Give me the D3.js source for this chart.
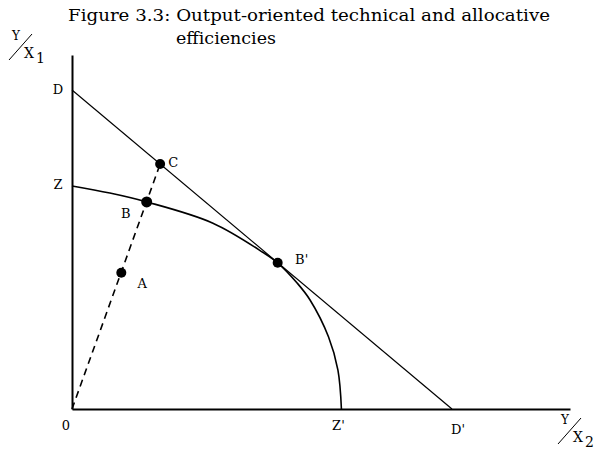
<!DOCTYPE html>
<html><head><meta charset="utf-8">
<script src="https://cdn.jsdelivr.net/npm/d3@7"></script>
<style>body{margin:0;background:#fff}svg{display:block}</style>
</head><body>
<script>
// Data (arbitrary units)
const titleLines = ["Figure 3.3: Output-oriented technical and allocative", "efficiencies"];
const frontierX = [0, 7.6, 15.0, 28.3, 38.4, 41.3, 45.2, 47.8, 51.5, 53.4, 54.1];
const frontierY = [63.0, 61.0, 58.5, 52.5, 44.2, 41.3, 35.6, 30.8, 20.4, 11.0, 0];
const isoRevenue = [{x: 0, y: 90.1, name: "D"}, {x: 76.3, y: 0, name: "D'"}];
const pointNames = ["A", "B", "C", "B'"];
const pointX = [9.9, 15.0, 17.7, 41.3];
const pointY = [38.5, 58.5, 69.2, 41.3];
const rayEnd = {x: 17.7, y: 69.2};
const axisLabels = ["0", "Z'", "D'", "Z", "D"];

const W = 601, H = 449;
const svg = d3.select("body").append("svg").attr("width", W).attr("height", H);
const x = d3.scaleLinear().domain([0, 100]).range([72, 570]);
const y = d3.scaleLinear().domain([0, 100]).range([409, 55]);
const serif = "'DejaVu Serif', 'Liberation Serif', serif";

// Title
svg.append("text").attr("x", 68).attr("y", 21).attr("font-family", serif).attr("font-size", 16)
  .attr("textLength", 482).attr("lengthAdjust", "spacingAndGlyphs").text(titleLines[0]);
svg.append("text").attr("x", 176).attr("y", 44).attr("font-family", serif).attr("font-size", 16)
  .attr("textLength", 100).attr("lengthAdjust", "spacingAndGlyphs").text(titleLines[1]);

// Axes
const xAxis = d3.axisBottom(x).tickValues([]).tickSizeOuter(0);
const yAxis = d3.axisLeft(y).tickValues([]).tickSizeOuter(0);
svg.append("g").attr("transform", `translate(0,${y(0)})`).call(xAxis)
  .select(".domain").attr("stroke", "#000").attr("stroke-width", 2);
svg.append("g").attr("transform", `translate(${x(0)},0)`).call(yAxis)
  .select(".domain").attr("stroke", "#000").attr("stroke-width", 2);

// Iso-revenue line D-D'
svg.append("line")
  .attr("x1", x(isoRevenue[0].x)).attr("y1", y(isoRevenue[0].y))
  .attr("x2", x(isoRevenue[1].x)).attr("y2", y(isoRevenue[1].y))
  .attr("stroke", "#000").attr("stroke-width", 1.2);

// Production possibility curve Z-Z'
const curveData = frontierX.map((v, i) => [v, frontierY[i]]);
svg.append("path").datum(curveData)
  .attr("d", d3.line().x(d => x(d[0])).y(d => y(d[1])).curve(d3.curveCatmullRom.alpha(0.5)))
  .attr("fill", "none").attr("stroke", "#000").attr("stroke-width", 1.6);

// Dashed ray from origin
svg.append("line").attr("x1", x(0)).attr("y1", y(0)).attr("x2", x(rayEnd.x)).attr("y2", y(rayEnd.y))
  .attr("stroke", "#000").attr("stroke-width", 1.6).attr("stroke-dasharray", "7,5");

// Points
const pts = pointNames.map((n, i) => ({name: n, x: pointX[i], y: pointY[i]}));
svg.selectAll("circle.pt").data(pts).join("circle").attr("class", "pt")
  .attr("cx", d => x(d.x)).attr("cy", d => y(d.y)).attr("r", d => d.name === "B" ? 5.5 : 5)
  .attr("fill", "#000");

// Point labels
const labelOffsets = {"A": [21, 12], "B": [-21, 13], "C": [13, -1], "B'": [24, -2]};
svg.selectAll("text.pl").data(pts).join("text").attr("class", "pl")
  .attr("x", d => x(d.x) + labelOffsets[d.name][0])
  .attr("y", d => y(d.y) + labelOffsets[d.name][1])
  .attr("text-anchor", "middle").attr("dominant-baseline", "middle")
  .attr("font-family", serif).attr("font-size", 13).text(d => d.name);

// Axis labels
const axisLabelPos = [
  {t: axisLabels[0], px: x(0) - 6, py: y(0) + 17},
  {t: axisLabels[1], px: x(frontierX[frontierX.length - 1]) - 3, py: y(0) + 17},
  {t: axisLabels[2], px: x(isoRevenue[1].x) + 6, py: y(0) + 21},
  {t: axisLabels[3], px: x(0) - 14, py: y(frontierY[0])},
  {t: axisLabels[4], px: x(0) - 14, py: y(isoRevenue[0].y)}
];
svg.selectAll("text.al").data(axisLabelPos).join("text").attr("class", "al")
  .attr("x", d => d.px).attr("y", d => d.py)
  .attr("text-anchor", "middle").attr("dominant-baseline", "middle")
  .attr("font-family", serif).attr("font-size", 13).text(d => d.t);

// Y/X ratio labels
function ratioLabel(gx, gy, sub) {
  const g = svg.append("g").attr("transform", `translate(${gx},${gy})`);
  g.append("text").attr("x", 0).attr("y", 0).attr("font-family", serif).attr("font-size", 12).text("Y");
  g.append("line").attr("x1", -3).attr("y1", 20).attr("x2", 20).attr("y2", -6).attr("stroke", "#000").attr("stroke-width", 1);
  g.append("text").attr("x", 12).attr("y", 18).attr("font-family", serif).attr("font-size", 14).text("X");
  g.append("text").attr("x", 24).attr("y", 23).attr("font-family", serif).attr("font-size", 14).text(sub);
}
ratioLabel(12, 40, "1");
ratioLabel(561, 424, "2");
</script>
</body></html>
